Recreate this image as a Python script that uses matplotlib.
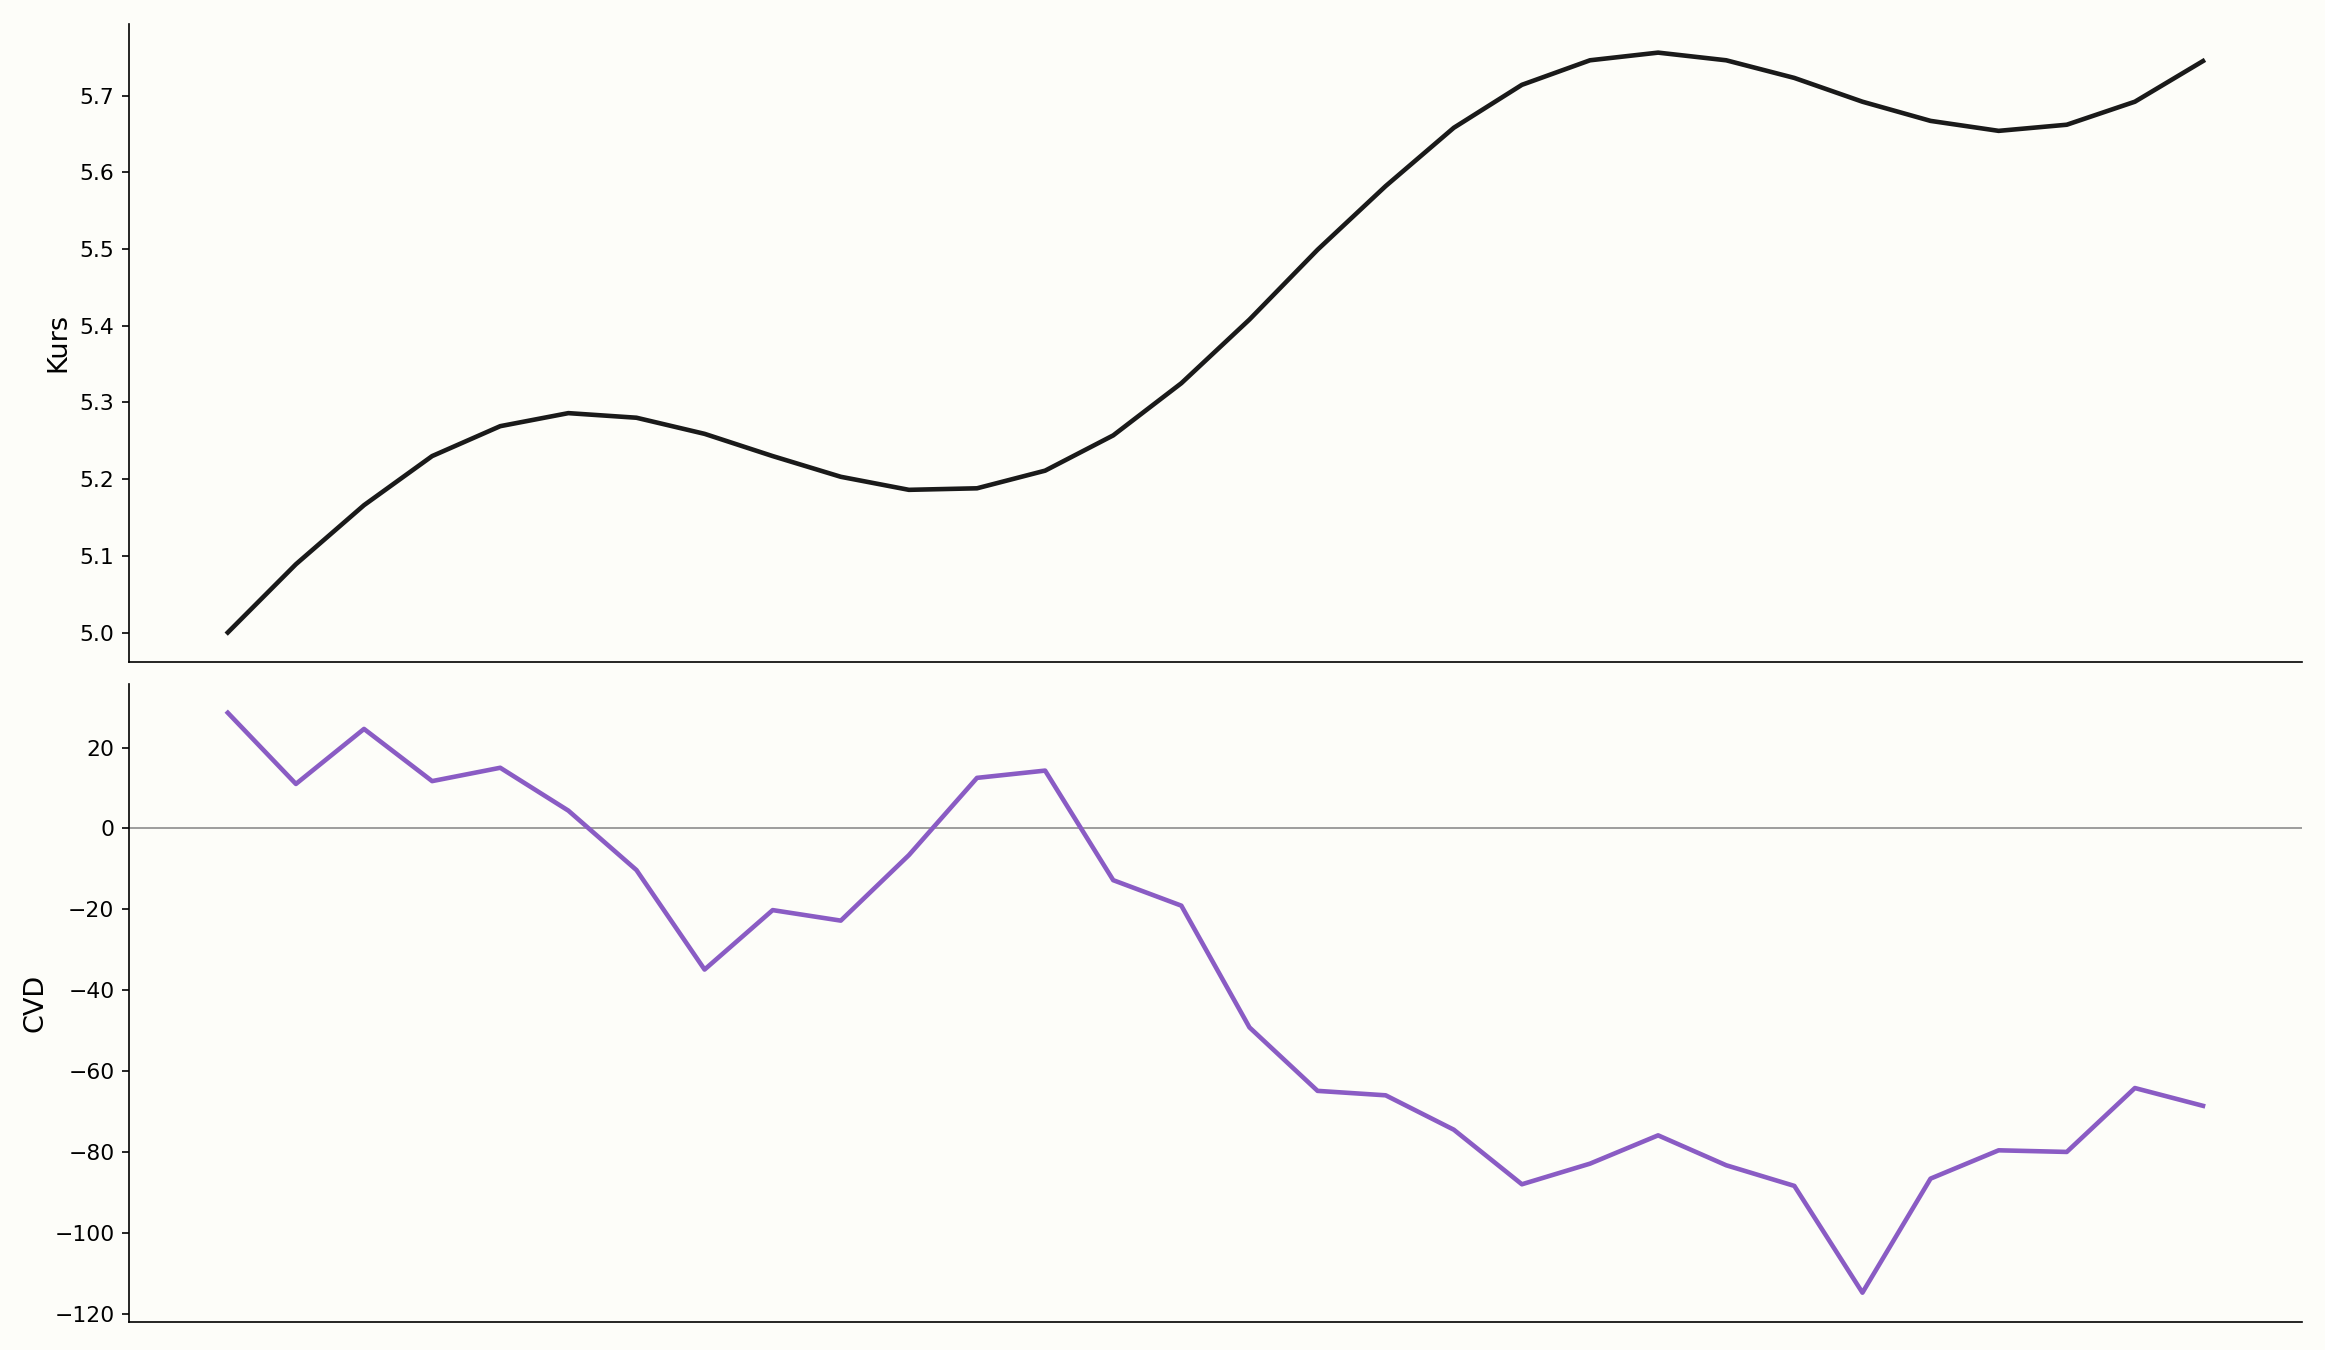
import numpy as np
import matplotlib
matplotlib.use("Agg")
import matplotlib.pyplot as plt

matplotlib.rcParams.update({'font.size': 10.5})

# price series (top panel)
kurs = [5.000, 5.089, 5.166, 5.230, 5.269, 5.286, 5.280, 5.259, 5.230, 5.203,
        5.186, 5.188, 5.211, 5.257, 5.325, 5.408, 5.499, 5.582, 5.658, 5.714,
        5.746, 5.756, 5.746, 5.723, 5.692, 5.667, 5.654, 5.662, 5.692, 5.745]

# cumulative volume delta (bottom panel)
cvd = [28.6, 11.0, 24.6, 11.7, 15.0, 4.4, -10.3, -34.9, -20.2, -22.8,
       -6.6, 12.5, 14.3, -12.8, -19.1, -49.2, -64.9, -66.0, -74.5, -88.0,
       -82.9, -75.9, -83.3, -88.4, -114.8, -86.6, -79.6, -80.0, -64.2, -68.6]

x = np.arange(len(kurs))
bg = '#fdfdf9'

fig = plt.figure(figsize=(15.5, 9), dpi=150, facecolor=bg)
ax1 = fig.add_axes([0.0555, 0.510, 0.9345, 0.4725])
ax2 = fig.add_axes([0.0555, 0.021, 0.9345, 0.4725])

ax1.plot(x, kurs, color='#1a1a1a', linewidth=2.2)
ax1.set_ylabel('Kurs', fontsize=13)

ax2.axhline(0, color='#999999', linewidth=0.9)
ax2.plot(x, cvd, color='#8a5cc4', linewidth=2.2)
ax2.set_ylabel('CVD', fontsize=13)
ax2.yaxis.set_label_coords(-0.037, 0.5)

for ax in (ax1, ax2):
    ax.set_facecolor(bg)
    ax.spines['top'].set_visible(False)
    ax.spines['right'].set_visible(False)
    ax.set_xticks([])

fig.savefig('out.png', dpi=150, facecolor=bg)
